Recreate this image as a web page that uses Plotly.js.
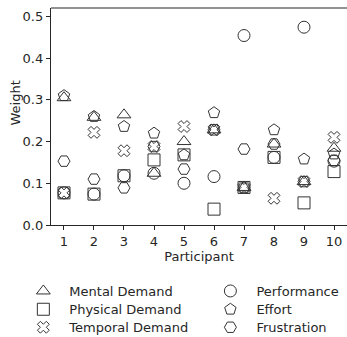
<!DOCTYPE html>
<html><head><meta charset="utf-8">
<script src="https://cdn.plot.ly/plotly-3.0.1.min.js"></script>
<style>body{margin:0;padding:0;background:#fff}#chart{width:347px;height:337px}</style>
</head><body><div id="chart"></div>
<script>
const participants = [1,2,3,4,5,6,7,8,9,10];
const mental      = [0.305,0.258,0.264,0.124,0.200,0.228,0.090,0.194,0.104,0.184];
const physical    = [0.077,0.074,0.118,0.156,0.168,0.038,0.090,0.162,0.053,0.128];
const temporal    = [0.077,0.222,0.178,0.188,0.236,0.228,0.090,0.064,0.104,0.210];
const performance = [0.077,0.074,0.118,0.124,0.100,0.116,0.454,0.162,0.474,0.153];
const effort      = [0.310,0.260,0.236,0.220,0.168,0.269,0.090,0.228,0.158,0.170];
const frustration = [0.153,0.110,0.089,0.188,0.134,0.228,0.182,0.194,0.104,0.155];
const seriesNames = ["Mental Demand","Physical Demand","Temporal Demand","Performance","Effort","Frustration"];
const seriesData = [mental, physical, temporal, performance, effort, frustration];
const symbols = ["triangle-up-open","square-open","x-open","circle-open","pentagon-open","hexagon2-open"];
const symbolSizes = [12, 12, 10.5, 12, 12, 12];
const ink = "#262626";
const font = "DejaVu Sans, sans-serif";
const legendIds = ["legend","legend2","legend3","legend4","legend5","legend6"];

const traces = seriesData.map((d,i)=>({
  type:"scatter", mode:"markers", x: participants, y: d, name: seriesNames[i],
  legend: legendIds[i],
  marker:{symbol:symbols[i], size:symbolSizes[i], color:"#333", line:{width:1, color:"#333"}},
  cliponaxis:false
}));

const legendBase = {
  yref:"container", xref:"container", yanchor:"top", xanchor:"left",
  font:{family:font, size:13, color:ink}, bgcolor:"rgba(0,0,0,0)",
  tracegroupgap:0, itemwidth:42
};
const legendRowsY = [0.181, 0.1267, 0.0733];
const legendColsX = [0.05, 0.589];

const layout = {
  width:347, height:337,
  margin:{l:51, r:0, t:8, b:112, autoexpand:false},
  paper_bgcolor:"#fff", plot_bgcolor:"#fff",
  font:{family:font, size:13, color:ink},
  showlegend:true,
  xaxis:{range:[0.567,10.433], tickvals:participants, ticktext:participants.map(String),
    showgrid:false, zeroline:false, showline:true, linecolor:ink, linewidth:1.2,
    ticks:"outside", ticklen:4, tickcolor:ink, tickfont:{size:13, color:ink},
    title:{text:"Participant", font:{size:13, color:ink}, standoff:4}},
  yaxis:{range:[0,0.52], tickvals:[0,0.1,0.2,0.3,0.4,0.5], tickformat:".1f",
    showgrid:false, zeroline:false, showline:true, linecolor:ink, linewidth:1.2,
    ticks:"outside", ticklen:4, tickcolor:ink, tickfont:{size:13, color:ink}},
  annotations:[{text:"Weight", xref:"paper", yref:"paper", x:-36/296, y:0.56,
    xanchor:"center", yanchor:"middle", textangle:-90, showarrow:false,
    font:{family:font, size:13, color:ink}}],
  shapes:[{type:"line", xref:"paper", yref:"paper", x0:0, x1:1, y0:1, y1:1, line:{color:ink, width:1.2}}]
};
legendIds.forEach((id,i)=>{
  layout[id] = Object.assign({}, legendBase, {x: legendColsX[Math.floor(i/3)], y: legendRowsY[i%3]});
});

Plotly.newPlot("chart", traces, layout, {displayModeBar:false, staticPlot:true});
</script></body></html>
